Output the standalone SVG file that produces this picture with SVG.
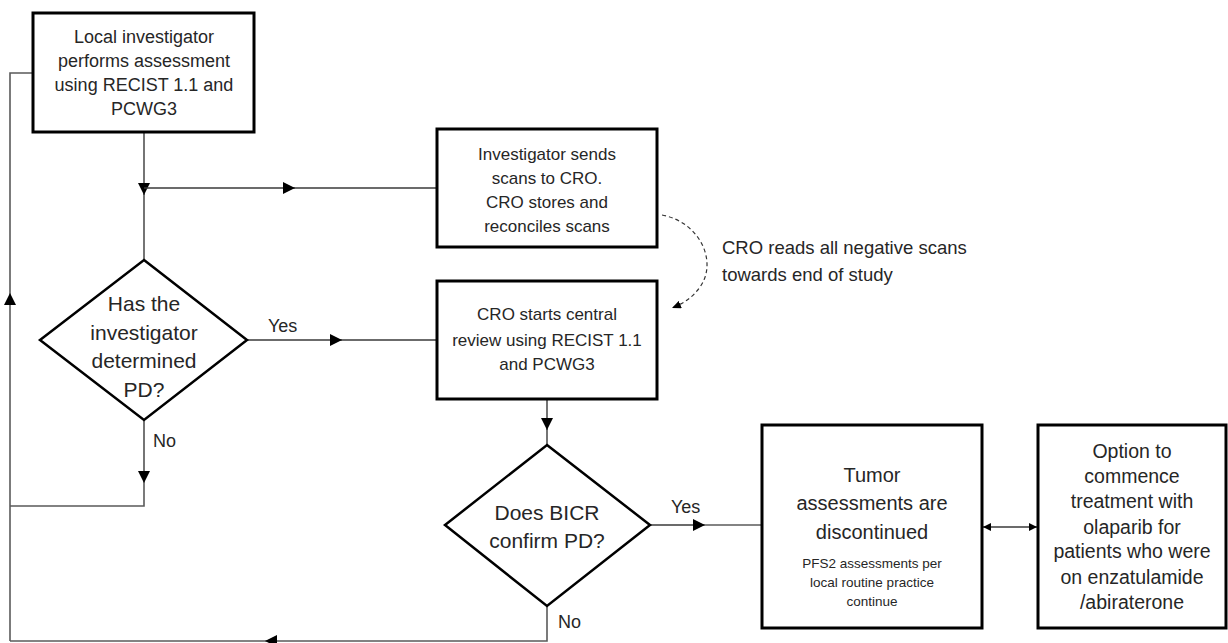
<svg xmlns="http://www.w3.org/2000/svg" width="1228" height="643" viewBox="0 0 1228 643">
<style>
.box{fill:#fff;stroke:#000;stroke-width:3}
.dia{fill:#fff;stroke:#000;stroke-width:2.5}
.ln{fill:none;stroke:#3a3a3a;stroke-width:1.4}
.lp{fill:none;stroke:#5a5a5a;stroke-width:1.6}
.dash{fill:none;stroke:#333;stroke-width:1.2;stroke-dasharray:4 3}
text{font-family:"Liberation Sans",Arial,sans-serif;fill:#262626;text-anchor:middle;dominant-baseline:central}
.t18{font-size:18px}
.t17{font-size:17px}
.t21{font-size:21px}
.t20{font-size:20px}
.t19{font-size:19.5px}
.t13{font-size:13.5px}
.lab{font-size:18px;text-anchor:start}
.side{font-size:18.5px;text-anchor:start}
</style>
<defs>
<marker id="ah" viewBox="0 0 12 12" refX="12" refY="6" markerWidth="12" markerHeight="12" markerUnits="userSpaceOnUse" orient="auto"><path d="M0,0 L12,6 L0,12 z" fill="#000"/></marker>
<marker id="sm" viewBox="0 0 8 8" refX="8" refY="4" markerWidth="8" markerHeight="8" markerUnits="userSpaceOnUse" orient="auto-start-reverse"><path d="M0,0 L8,4 L0,8 z" fill="#000"/></marker>
<marker id="dh" viewBox="0 0 9 8" refX="9" refY="4" markerWidth="9" markerHeight="8" markerUnits="userSpaceOnUse" orient="auto"><path d="M0,0 L9,4 L0,8 z" fill="#000"/></marker>
</defs>

<g id="connectors">
<!-- box1 down to diamond1 -->
<path class="ln" d="M144,132 V195" marker-end="url(#ah)"/>
<path class="ln" d="M144,194 V260"/>
<!-- branch to box2 -->
<path class="ln" d="M144,188 H295" marker-end="url(#ah)"/>
<path class="ln" d="M294,188 H436"/>
<!-- yes diamond1 to box3 -->
<path class="ln" d="M247,340 H342" marker-end="url(#ah)"/>
<path class="ln" d="M341,340 H437"/>
<!-- no diamond1 -->
<path class="ln" d="M144,420 V483" marker-end="url(#ah)"/>
<path class="lp" d="M144,482 V506 H10"/>
<!-- loop line -->
<path class="lp" d="M10,641 V293" marker-end="url(#ah)"/>
<path class="lp" d="M10,294 V73 H33"/>
<!-- box3 to diamond2 -->
<path class="ln" d="M547,399 V430" marker-end="url(#ah)"/>
<path class="ln" d="M547,429 V445"/>
<!-- yes diamond2 to box4 -->
<path class="ln" d="M650,525 H705" marker-end="url(#ah)"/>
<path class="lp" d="M704,525 H762"/>
<!-- no diamond2 back -->
<path class="lp" d="M547,606 V641 H265" marker-end="url(#ah)"/>
<path class="lp" d="M266,641 H10"/>
<!-- double arrow -->
<path class="ln" d="M983,527 H1037" marker-start="url(#sm)" marker-end="url(#sm)"/>
<!-- dashed curve -->
<path class="dash" d="M662,215 C700,222 718,262 700,287 C692,298 684,303 672,308" marker-end="url(#dh)"/>
<!-- labels -->
<text class="lab" x="268" y="326">Yes</text>
<text class="lab" x="153" y="441">No</text>
<text class="lab" x="671" y="507">Yes</text>
<text class="lab" x="558" y="622">No</text>
</g>

<g id="box1">
<rect class="box" x="33" y="13" width="221" height="119"/>
<text class="t18" x="144" y="37">Local investigator</text>
<text class="t18" x="144" y="61">performs assessment</text>
<text class="t18" x="144" y="85">using RECIST 1.1 and</text>
<text class="t18" x="144" y="109">PCWG3</text>
</g>

<g id="diamond1">
<polygon class="dia" points="144,260 247,340 144,420 40,340"/>
<text class="t21" x="144" y="303">Has the</text>
<text class="t21" x="144" y="332">investigator</text>
<text class="t21" x="144" y="360">determined</text>
<text class="t21" x="144" y="389">PD?</text>
</g>

<g id="box2">
<rect class="box" x="437" y="129" width="220" height="118"/>
<text class="t17" x="547" y="154">Investigator sends</text>
<text class="t17" x="547" y="178">scans to CRO.</text>
<text class="t17" x="547" y="202">CRO stores and</text>
<text class="t17" x="547" y="226">reconciles scans</text>
</g>

<g id="note">
<text class="side" x="722" y="247">CRO reads all negative scans</text>
<text class="side" x="722" y="274">towards end of study</text>
</g>

<g id="box3">
<rect class="box" x="437" y="281" width="220" height="118"/>
<text class="t17" x="547" y="314">CRO starts central</text>
<text class="t17" x="547" y="340">review using RECIST 1.1</text>
<text class="t17" x="547" y="364">and PCWG3</text>
</g>

<g id="diamond2">
<polygon class="dia" points="547,445 650,525 547,606 445,525"/>
<text class="t21" x="547" y="512">Does BICR</text>
<text class="t21" x="547" y="540">confirm PD?</text>
</g>

<g id="box4">
<rect class="box" x="762" y="425" width="220" height="203"/>
<text class="t20" x="872" y="475">Tumor</text>
<text class="t20" x="872" y="503">assessments are</text>
<text class="t20" x="872" y="532">discontinued</text>
<text class="t13" x="872" y="563">PFS2 assessments per</text>
<text class="t13" x="872" y="582">local routine practice</text>
<text class="t13" x="872" y="601">continue</text>
</g>

<g id="box5">
<rect class="box" x="1038" y="425" width="188" height="203"/>
<text class="t19" x="1132" y="451">Option to</text>
<text class="t19" x="1132" y="476">commence</text>
<text class="t19" x="1132" y="501">treatment with</text>
<text class="t19" x="1132" y="527">olaparib for</text>
<text class="t19" x="1132" y="551">patients who were</text>
<text class="t19" x="1132" y="577">on enzatulamide</text>
<text class="t19" x="1132" y="602">/abiraterone</text>
</g>
</svg>
